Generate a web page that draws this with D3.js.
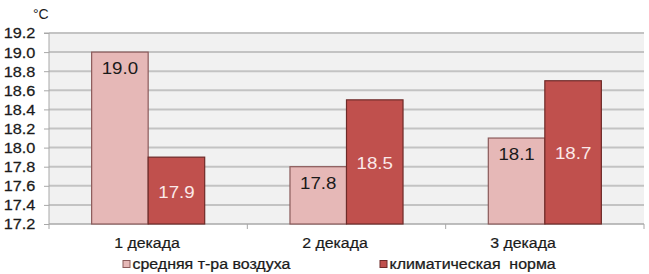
<!DOCTYPE html>
<html><head><meta charset="utf-8">
<script src="https://cdn.jsdelivr.net/npm/d3@7"></script>
<style>
html,body{margin:0;padding:0;background:#fff;}
svg{display:block;font-family:Arial,"Liberation Sans",sans-serif;}
</style></head>
<body><svg id="c" width="649" height="274"></svg>
<script>
const categories = ["1 декада", "2 декада", "3 декада"];
const seriesNames = ["средняя т-ра воздуха", "климатическая  норма"];
const avgTemp = [19.0, 17.8, 18.1];
const climNorm = [17.9, 18.5, 18.7];
const yTicks = [17.2, 17.4, 17.6, 17.8, 18.0, 18.2, 18.4, 18.6, 18.8, 19.0, 19.2];
const unitLabel = "°C";

const colors = ["#e6b8b7", "#c0504d"];
const strokes = ["#8a5a5a", "#6e2a28"];
const labelColors = ["#1a1a1a", "#fbe9e9"];
// label offsets (px below bar top) per series per category
const labelOffsets = [[16, 16, 16], [35, 63, 72]];

const svg = d3.select("#c");
const x0 = 49, x1 = 644, yTop = 33, yBot = 224;
const SX = 1.08; // horizontal text stretch seen in the reference

const x = d3.scaleBand().domain(categories).range([x0, x1]).paddingInner(0.43).paddingOuter(0.215);
const xs = d3.scaleBand().domain([0, 1]).range([0, x.bandwidth()]);
const y = d3.scaleLinear().domain([17.2, 19.2]).range([yBot, yTop]);

function stretchedText(sel, fx, fy, sx) {
  return sel.attr("x", 0).attr("y", 0)
    .attr("transform", (d, i) => `translate(${fx(d, i)},${fy(d, i)}) scale(${sx},1)`);
}

svg.append("rect").attr("x", x0).attr("y", yTop).attr("width", x1 - x0).attr("height", yBot - yTop).attr("fill", "#f1f1f1");

// gridlines
svg.append("g").selectAll("line").data(yTicks.slice(1)).join("line")
  .attr("x1", x0).attr("x2", x1).attr("y1", d => y(d)).attr("y2", d => y(d))
  .attr("stroke", "#c3c3c3").attr("stroke-width", 2);

// y axis
const yAxis = d3.axisLeft(y).tickValues(yTicks).tickFormat(d3.format(".1f")).tickSize(5).tickPadding(8);
const gy = svg.append("g").attr("transform", `translate(${x0},0)`).call(yAxis);
gy.select(".domain").attr("stroke", "#a8a8a8").attr("d", `M-5,${yTop}H0V${yBot}`);
gy.selectAll(".tick line").attr("stroke", "#a8a8a8");
gy.selectAll("text").attr("font-size", 15.5).attr("fill", "#1a1a1a")
  .attr("font-family", "Arial,'Liberation Sans',sans-serif")
  .attr("stroke", "#1a1a1a").attr("stroke-width", 0.25)
  .attr("transform", "scale(1.05,1)");

// x axis boundaries ticks
const step = (x1 - x0) / categories.length;
const bounds = d3.range(categories.length + 1).map(i => x0 + i * step);
svg.append("line").attr("x1", x0).attr("x2", x1).attr("y1", yBot).attr("y2", yBot).attr("stroke", "#a8a8a8").attr("stroke-width", 1.5);
svg.append("g").selectAll("line").data(bounds).join("line")
  .attr("x1", d => d).attr("x2", d => d).attr("y1", yBot).attr("y2", yBot + 5).attr("stroke", "#a8a8a8");

// bars
const series = [avgTemp, climNorm];
series.forEach((vals, si) => {
  const g = svg.append("g");
  g.selectAll("rect").data(vals).join("rect")
    .attr("x", (d, i) => x(categories[i]) + xs(si))
    .attr("y", d => y(d))
    .attr("width", xs.bandwidth())
    .attr("height", d => yBot - y(d))
    .attr("fill", colors[si]).attr("stroke", strokes[si]).attr("stroke-width", 1.2);
  stretchedText(g.selectAll("text").data(vals).join("text"),
      (d, i) => x(categories[i]) + xs(si) + xs.bandwidth() / 2,
      (d, i) => y(d) + labelOffsets[si][i], 1.1)
    .attr("dy", "0.35em").attr("text-anchor", "middle")
    .attr("font-size", 17).attr("fill", labelColors[si])
    .text(d => d3.format(".1f")(d));
});

// category labels
const xl = d3.scalePoint().domain(categories).range([147, 523]);
stretchedText(svg.append("g").selectAll("text").data(categories).join("text"),
    d => xl(d), () => 243, 1.06)
  .attr("dy", "0.35em").attr("text-anchor", "middle")
  .attr("font-size", 15).attr("fill", "#1a1a1a")
  .attr("stroke", "#1a1a1a").attr("stroke-width", 0.2).text(d => d);

// unit
svg.append("text").attr("x", 33).attr("y", 14).attr("dy", "0.35em").attr("font-size", 14).attr("fill", "#1a1a1a").text(unitLabel);

// legend
const legX = [123, 380];
const lg = svg.append("g").selectAll("g").data(seriesNames).join("g")
  .attr("transform", (d, i) => `translate(${legX[i]},264)`);
lg.append("rect").attr("x", 0).attr("y", -3.5).attr("width", 7).attr("height", 7)
  .attr("fill", (d, i) => colors[i]).attr("stroke", (d, i) => strokes[i]).attr("stroke-width", 1);
lg.append("text").attr("x", 0).attr("y", 0).attr("transform", "translate(9.5,0) scale(1.1,1)")
  .attr("dy", "0.35em").attr("font-size", 14.5).attr("fill", "#1a1a1a")
  .attr("stroke", "#1a1a1a").attr("stroke-width", 0.25)
  .attr("xml:space", "preserve").style("white-space", "pre").text(d => d);
</script></body></html>
